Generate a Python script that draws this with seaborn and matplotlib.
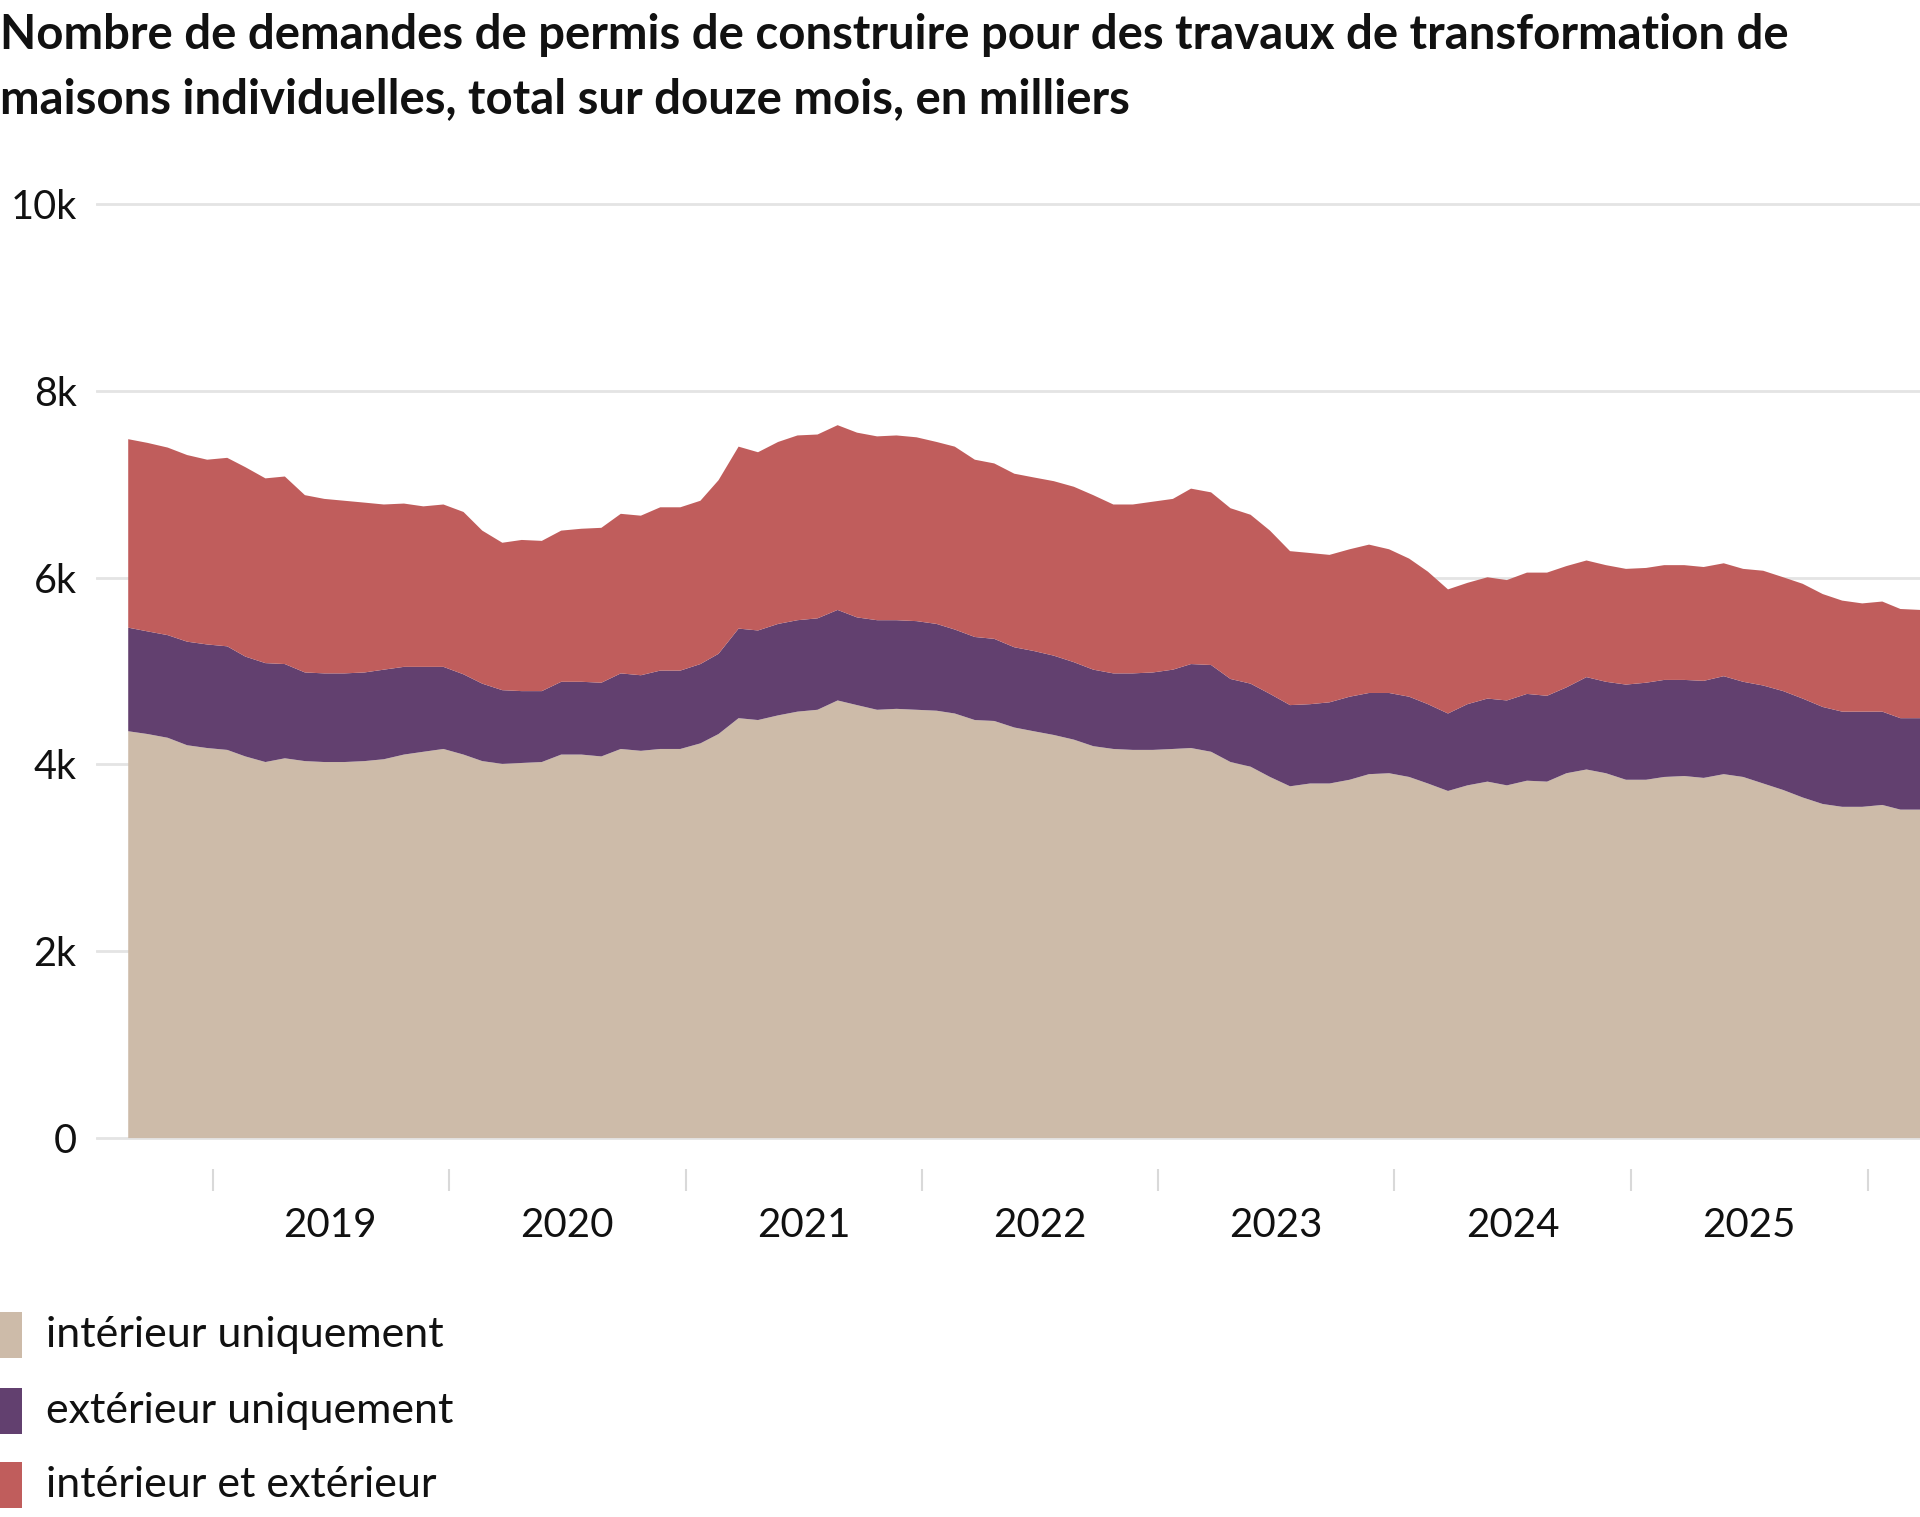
import pandas as pd
import matplotlib
matplotlib.use("Agg")
import matplotlib.pyplot as plt
from matplotlib.patches import Rectangle
import seaborn as sns

# Demandes de permis (total glissant sur 12 mois), valeurs mensuelles
start = "2018-09-01"
interieur = [
    4360, 4330, 4290, 4210, 4180, 4160, 4090, 4030, 4070, 4040, 4030, 4030, 4040, 4060, 4110, 4140,
    4170, 4110, 4040, 4010, 4020, 4030, 4110, 4110, 4090, 4170, 4150, 4170, 4170, 4230, 4330,
    4500, 4480, 4530, 4570, 4590, 4690, 4640, 4590, 4600, 4590, 4580, 4550, 4480, 4470, 4400,
    4360, 4320, 4270, 4200, 4170, 4160, 4160, 4170, 4180, 4140, 4030, 3980, 3870, 3770, 3800, 3800,
    3840, 3900, 3910, 3870, 3800, 3720, 3780, 3820, 3780, 3830, 3820, 3910, 3950, 3910, 3840,
    3840, 3870, 3880, 3860, 3900, 3870, 3800, 3730, 3650, 3580, 3550, 3550, 3570, 3520, 3520,
]
exterieur = [
    1110, 1100, 1100, 1110, 1110, 1110, 1070, 1060, 1010, 950, 950, 950, 950, 960, 940, 910,
    880, 860, 830, 790, 770, 760, 780, 780, 790, 810, 810, 840, 840, 850, 860,
    960, 960, 980, 980, 980, 970, 940, 960, 950, 950, 930, 900, 890, 880, 860,
    860, 850, 830, 820, 810, 820, 830, 850, 900, 930, 890, 890, 890, 870, 850, 870,
    890, 870, 860, 860, 850, 830, 870, 890, 910, 930, 920, 920, 990, 980, 1020,
    1040, 1040, 1030, 1040, 1050, 1020, 1050, 1060, 1060, 1040, 1020, 1020, 1000, 980, 980,
]
les_deux = [
    2020, 2020, 2010, 2000, 1980, 2020, 2030, 1980, 2010, 1900, 1870, 1850, 1820, 1770, 1750, 1720,
    1740, 1740, 1640, 1580, 1620, 1610, 1620, 1640, 1660, 1710, 1710, 1750, 1750, 1750, 1860,
    1950, 1910, 1950, 1980, 1970, 1980, 1980, 1970, 1980, 1970, 1950, 1960, 1900, 1880, 1860,
    1860, 1870, 1880, 1870, 1810, 1810, 1830, 1830, 1880, 1850, 1830, 1810, 1750, 1650, 1620, 1580,
    1580, 1590, 1540, 1480, 1420, 1330, 1300, 1300, 1290, 1300, 1320, 1300, 1250, 1250, 1240,
    1230, 1230, 1230, 1220, 1210, 1210, 1230, 1220, 1230, 1210, 1190, 1160, 1180, 1170, 1160,
]
labels = ["intérieur uniquement", "extérieur uniquement", "intérieur et extérieur"]
colors = ["#cdbba9", "#62406f", "#c05d5c"]
years = list(range(2019, 2026))
yticks = [0, 2000, 4000, 6000, 8000, 10000]
ytick_labels = ["0", "2k", "4k", "6k", "8k", "10k"]
title_lines = [
    "Nombre de demandes de permis de construire pour des travaux de transformation de",
    "maisons individuelles, total sur douze mois, en milliers",
]

# points placés un peu avant le début du mois, comme sur l'original
dates = pd.date_range(start, periods=len(interieur), freq="MS") - pd.Timedelta(days=9)
df = pd.DataFrame({labels[0]: interieur, labels[1]: exterieur, labels[2]: les_deux}, index=dates)

sns.set_theme(style="white")
plt.rcParams["font.family"] = ["Lato", "DejaVu Sans"]

W, H = 1920, 1517
fig = plt.figure(figsize=(W / 100, H / 100), dpi=100)
ax = fig.add_axes([96 / W, 1 - 1140 / H, 1 - 96 / W, (1140 - 190) / H])

ax.stackplot(df.index, df.T.values, colors=colors, labels=labels, linewidth=0)

ax.set_ylim(-26, 10155)
ax.set_yticks(yticks)
ax.set_yticklabels(ytick_labels)
ax.yaxis.grid(True, color="#e4e4e4", linewidth=2)
ax.xaxis.grid(False)
ax.set_axisbelow(True)
ax.tick_params(axis="y", length=0, pad=14, labelsize=28.5, labelcolor="#111111")

# la série va jusqu'au bord droit
ax.set_xlim(pd.Timestamp("2018-07-05"), df.index[-1])
ax.set_xticks([pd.Timestamp(f"{y}-01-01") for y in years + [2026]])
ax.set_xticklabels([])
ax.set_xticks([pd.Timestamp(f"{y}-07-02") for y in years], minor=True)
ax.set_xticklabels([str(y) for y in years], minor=True)
ax.tick_params(axis="x", which="major", length=16, width=1.5, color="#d9d9d9", direction="out", bottom=True)
ax.tick_params(axis="x", which="minor", length=0, pad=27, labelsize=29, labelcolor="#111111", bottom=True)

for side in ["top", "right", "left"]:
    ax.spines[side].set_visible(False)
ax.spines["bottom"].set_position(("outward", 21))
ax.spines["bottom"].set_color("none")

for i, line in enumerate(title_lines):
    fig.text(0.0, 1 - (49 + 64 * i) / H, line, ha="left", va="baseline",
             fontsize=34, fontweight="bold", color="#111111")

legend_y = [1335, 1411, 1485]
for lab, col, yc in zip(labels, colors, legend_y):
    fig.add_artist(Rectangle((0, 1 - (yc + 23) / H), 22 / W, 46 / H,
                             transform=fig.transFigure, color=col, linewidth=0))
    fig.text(46 / W, 1 - yc / H, lab, ha="left", va="center", fontsize=31, color="#111111")

fig.savefig("out.png", dpi=100)
